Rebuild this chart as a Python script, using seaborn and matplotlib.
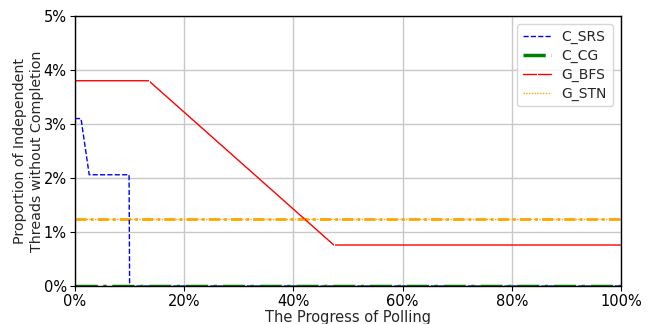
import matplotlib
matplotlib.use("Agg")
import matplotlib.pyplot as plt
from matplotlib.ticker import PercentFormatter
import seaborn as sns
import pandas as pd

# Polling progress (%) and share of independent threads without completion (%)
srs_x = [0, 1.1, 2.6, 9.9, 10.0, 100]
srs_y = [3.10, 3.10, 2.06, 2.06, 0.0, 0.0]

cg_x = [0, 100]
cg_y = [0.0, 0.0]

bfs_x = [0, 13.5, 47.4, 100]
bfs_y = [3.80, 3.80, 0.76, 0.76]

stn_x = [0, 100]
stn_y = [1.235, 1.235]

series = [
    ("C_SRS", srs_x, srs_y, dict(color="blue", linestyle="--", linewidth=1.0)),
    ("C_CG", cg_x, cg_y, dict(color="green", linestyle="-.", linewidth=2.5)),
    ("G_BFS", bfs_x, bfs_y, dict(color="red", linestyle="-", linewidth=1.0,
                                  marker="|", markersize=4)),
    ("G_STN", stn_x, stn_y, dict(color="orange", linestyle=(0, (1, 1)), linewidth=1.0)),
]

sns.set_style("ticks")
plt.rcParams["font.family"] = ["DejaVu Sans"]

fig = plt.figure(figsize=(6.5, 3.24), dpi=100)
ax = fig.add_axes([0.1154, 0.117, 0.8400, 0.834])

for name, xs, ys, style in series:
    df = pd.DataFrame({"x": xs, "y": ys})
    sns.lineplot(data=df, x="x", y="y", ax=ax, label=name, sort=False,
                 estimator=None, **style)

# thicker dash-dot overlay that gives the STN line its heavier look
ax.plot(stn_x, stn_y, color="orange", linestyle=(0, (4, 1.5, 1, 1.5)),
        linewidth=2.0, zorder=1.9)

ax.set_xlim(0, 100)
ax.set_ylim(0, 5)
ax.xaxis.set_major_formatter(PercentFormatter(decimals=0))
ax.yaxis.set_major_formatter(PercentFormatter(decimals=0))
ax.set_xticks([0, 20, 40, 60, 80, 100])
ax.set_yticks([0, 1, 2, 3, 4, 5])
ax.tick_params(labelsize=10.5, length=3.5, pad=2.5, color="black", labelcolor="black")
ax.grid(True, color="#c8c8c8", linewidth=1.0)
ax.set_axisbelow(True)
for s in ax.spines.values():
    s.set_color("black")
    s.set_linewidth(1.0)

ax.set_xlabel("The Progress of Polling", fontsize=10.5, labelpad=0.5)
ax.set_ylabel("Proportion of Independent\nThreads without Completion",
              fontsize=10.3, labelpad=0)

ax.legend(loc="upper right", fontsize=10, frameon=True, fancybox=True,
          edgecolor="#cccccc", framealpha=0.8, handlelength=2.0,
          labelspacing=0.35, borderaxespad=0.6)

fig.savefig("out.png", dpi=100)
